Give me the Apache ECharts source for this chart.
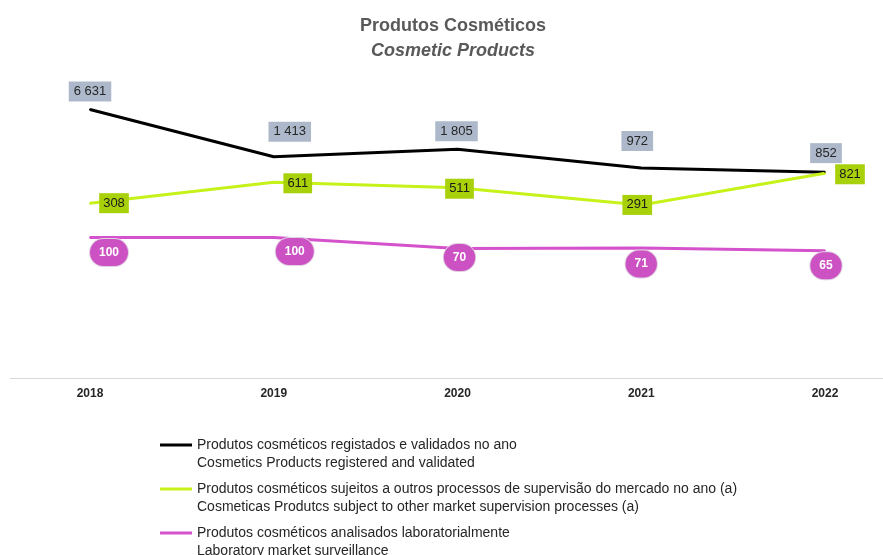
<!DOCTYPE html>
<html>
<head>
<meta charset="utf-8">
<script src="https://cdn.jsdelivr.net/npm/echarts@6/dist/echarts.min.js"></script>
<style>
  html, body { margin: 0; padding: 0; background: #fff; }
  #chart { width: 883px; height: 555px; }
</style>
</head>
<body>
<div id="chart"></div>
<script>
// dados
var anos = ['2018', '2019', '2020', '2021', '2022'];
var registados = [6631, 1413, 1805, 972, 852];
var supervisao = [308, 611, 511, 291, 821];
var laboratorio = [100, 100, 70, 71, 65];

var nomes = [
  'Produtos cosméticos registados e validados no ano\nCosmetics Products registered and validated',
  'Produtos cosméticos sujeitos a outros processos de supervisão do mercado no ano (a)\nCosmeticas Produtcs subject to other market supervision processes (a)',
  'Produtos cosméticos analisados laboratorialmente\nLaboratory market surveillance'
];

// deslocamento das etiquetas (estilo, como no Excel)
var offPreto = [[0, -18], [16, -25], [-1, -18], [-4, -27], [1, -19]];
var offVerde = [[24, 0], [24, 1], [2, 1], [-4, 0], [25, 1]];
var offRosa = [[19, 15], [21, 14], [2, 9], [0, 16], [1, 15]];

var fonte = 'Liberation Sans';

function espacos(v) {
  return String(v).replace(/\B(?=(\d{3})+(?!\d))/g, ' ');
}

function comEtiquetas(valores, offsets) {
  return valores.map(function (v, i) {
    return { value: v, label: { offset: offsets[i] } };
  });
}

var chart = echarts.init(document.getElementById('chart'));

var option = {
  animation: false,
  title: [{
    text: 'Produtos Cosméticos',
    left: 355,
    top: 12,
    textStyle: { fontFamily: fonte, fontSize: 18, fontWeight: 'bold', color: '#595959' }
  }, {
    text: 'Cosmetic Products',
    left: 366,
    top: 37,
    textStyle: { fontFamily: fonte, fontSize: 18, fontWeight: 'bold', fontStyle: 'italic', color: '#595959' }
  }],
  legend: {
    orient: 'vertical',
    left: 160,
    top: 418,
    height: 200,
    padding: 0,
    itemGap: -10,
    itemWidth: 32,
    itemHeight: 3,
    icon: 'rect',
    selectedMode: false,
    // linha vazia por cima para o traço ficar na primeira linha do texto
    formatter: function (name) { return ' \n' + name; },
    textStyle: {
      fontFamily: fonte,
      fontSize: 14,
      color: '#262626',
      lineHeight: 18
    },
    data: nomes
  },
  grid: { left: 90, right: 58, top: 97, bottom: 177 },
  xAxis: {
    type: 'category',
    data: anos,
    boundaryGap: false,
    axisLine: { show: false },
    axisTick: { show: false },
    axisLabel: {
      margin: 10,
      fontFamily: fonte,
      fontSize: 12,
      fontWeight: 'bold',
      color: '#262626'
    }
  },
  yAxis: {
    type: 'log',
    min: 1,
    max: 10000,
    show: false,
    splitLine: { show: false }
  },
  graphic: [{
    type: 'line',
    shape: { x1: 10, y1: 378.5, x2: 883, y2: 378.5 },
    style: { stroke: '#d9d9d9', lineWidth: 1 }
  }],
  series: [{
    name: nomes[0],
    type: 'line',
    data: comEtiquetas(registados, offPreto),
    symbol: 'circle',
    symbolSize: 2,
    itemStyle: { color: '#000000' },
    lineStyle: { color: '#000000', width: 3 },
    label: {
      show: true,
      position: 'inside',
      formatter: function (p) { return espacos(p.value); },
      fontFamily: fonte,
      fontSize: 13,
      color: '#262626',
      backgroundColor: '#adb9ca',
      padding: [4, 5, 3, 5]
    },
    emphasis: { disabled: true }
  }, {
    name: nomes[1],
    type: 'line',
    data: comEtiquetas(supervisao, offVerde),
    symbol: 'circle',
    symbolSize: 2,
    itemStyle: { color: '#c6f21a' },
    lineStyle: { color: '#c6f21a', width: 3 },
    label: {
      show: true,
      position: 'inside',
      fontFamily: fonte,
      fontSize: 13,
      color: '#1a1a1a',
      backgroundColor: '#a9d10a',
      padding: [4, 4, 3, 4]
    },
    emphasis: { disabled: true }
  }, {
    name: nomes[2],
    type: 'line',
    data: comEtiquetas(laboratorio, offRosa),
    symbol: 'circle',
    symbolSize: 2,
    itemStyle: { color: '#d452cb' },
    lineStyle: { color: '#d452cb', width: 3 },
    label: {
      show: true,
      position: 'inside',
      fontFamily: fonte,
      fontSize: 12,
      fontWeight: 'bold',
      color: '#ffffff',
      backgroundColor: '#cc52c3',
      borderColor: '#e0d0e0',
      borderWidth: 1,
      borderRadius: 15,
      padding: [8, 9, 7, 9]
    },
    emphasis: { disabled: true }
  }]
};

chart.setOption(option);
</script>
</body>
</html>
